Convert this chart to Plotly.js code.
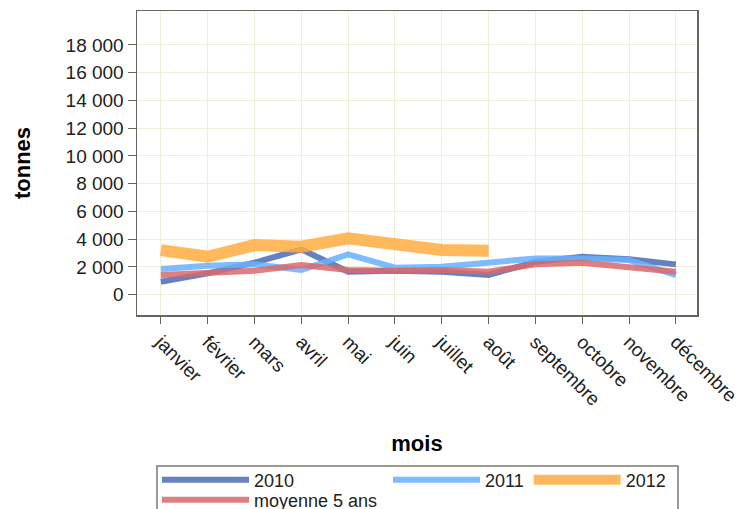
<!DOCTYPE html>
<html>
<head>
<meta charset="utf-8">
<script src="https://cdn.plot.ly/plotly-3.0.1.min.js"></script>
<style>html,body{margin:0;padding:0;background:#fff;}#chart{width:747px;height:509px;}</style>
</head>
<body>
<div id="chart"></div>
<script>
const months = ['janvier','février','mars','avril','mai','juin','juillet','août','septembre','octobre','novembre','décembre'];
const y2010 = [940, 1540, 2310, 3270, 1660, 1730, 1660, 1420, 2380, 2740, 2550, 2190];
const y2011 = [1850, 2090, 2190, 1780, 2910, 1950, 2020, 2310, 2620, 2620, 2500, 1420];
const y2012 = [3220, 2740, 3580, 3460, 4070, 3700, 3220, 3170];
const yMoyenne = [1420, 1540, 1730, 2140, 1780, 1730, 1780, 1660, 2190, 2310, 2020, 1660];
const yTickVals = [0, 2000, 4000, 6000, 8000, 10000, 12000, 14000, 16000, 18000];
const yTickText = ['0', '2 000', '4 000', '6 000', '8 000', '10 000', '12 000', '14 000', '16 000', '18 000'];

const W = 747, H = 509;
const L = 137, R = 697, T = 11, B = 315;
const px = x => (x - L) / (R - L);
const py = y => (B - y) / (B - T);
const FONT = 'Liberation Sans, Arial, sans-serif';

const traces = [
  {x: months, y: y2010, name: '2010', mode: 'lines', line: {color: '#4a6bb5', width: 6}, opacity: 0.85, legend: 'legend'},
  {x: months, y: y2011, name: '2011', mode: 'lines', line: {color: '#66b2ff', width: 6}, opacity: 0.85, legend: 'legend2'},
  {x: months.slice(0, y2012.length), y: y2012, name: '2012', mode: 'lines', line: {color: '#ffad40', width: 12}, opacity: 0.85, legend: 'legend2'},
  {x: months, y: yMoyenne, name: 'moyenne 5 ans', mode: 'lines', line: {color: '#d8696b', width: 6}, opacity: 0.85, legend: 'legend3'}
];

const legendBase = {
  orientation: 'h', xanchor: 'left', yanchor: 'middle',
  bgcolor: 'rgba(0,0,0,0)', borderwidth: 0,
  font: {family: FONT, size: 18, color: '#222'},
  itemwidth: 87, tracegroupgap: 0
};

const layout = {
  width: W, height: H,
  margin: {l: L, r: W - R, t: T, b: H - B, pad: 0, autoexpand: false},
  paper_bgcolor: '#fff', plot_bgcolor: '#fff',
  showlegend: true,
  font: {family: FONT, size: 18, color: '#222'},
  xaxis: {
    type: 'category', range: [-0.51, 11.45],
    showline: true, mirror: true, linecolor: '#66665c', linewidth: 1.5,
    showgrid: true, gridcolor: '#efeedb', gridwidth: 1,
    ticks: 'outside', ticklen: 7, tickcolor: '#66665c', tickwidth: 1,
    tickangle: 45, tickfont: {family: FONT, size: 19, color: '#222'},
    title: {text: '<b>mois</b>', font: {family: FONT, size: 22, color: '#000'}, standoff: 27},
    automargin: false, zeroline: false
  },
  yaxis: {
    range: [-1460, 20450],
    tickvals: yTickVals, ticktext: yTickText,
    showline: true, mirror: true, linecolor: '#66665c', linewidth: 1.5,
    showgrid: true, gridcolor: '#efeedb', gridwidth: 1,
    ticks: 'outside', ticklen: 8, tickcolor: '#66665c', tickwidth: 1,
    tickfont: {family: FONT, size: 19, color: '#222'},
    title: {text: '<b>tonnes</b>', font: {family: FONT, size: 22, color: '#000'}, standoff: 29},
    automargin: false, zeroline: false
  },
  legend: Object.assign({}, legendBase, {x: px(157), y: py(480)}),
  legend2: Object.assign({}, legendBase, {x: px(388), y: py(480)}),
  legend3: Object.assign({}, legendBase, {x: px(157), y: py(500)}),
  shapes: [
    {type: 'rect', xref: 'paper', yref: 'paper', x0: px(157), x1: px(678), y0: py(525), y1: py(466),
     line: {color: '#7a7a70', width: 1.5}, fillcolor: 'rgba(0,0,0,0)', layer: 'below'}
  ]
};

Plotly.newPlot('chart', traces, layout, {displayModeBar: false, staticPlot: true});
</script>
</body>
</html>
